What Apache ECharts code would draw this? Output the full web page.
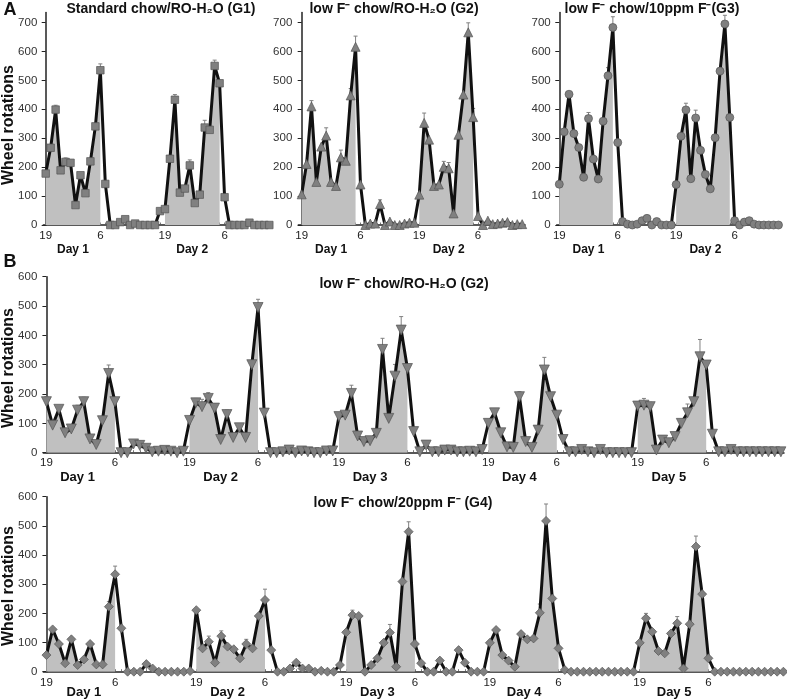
<!DOCTYPE html>
<html><head><meta charset="utf-8">
<script src="https://cdn.jsdelivr.net/npm/echarts@6/dist/echarts.min.js"></script>
<style>html,body{margin:0;padding:0;background:#fff}#c{width:787px;height:700px}</style>
</head><body><div id="c"></div>
<script>
// ---------- DATA ----------
// Panel A: hourly wheel rotations, 2 days (index 0 = 19h day 1)
const g1Values = [178,267,399,189,218,215,69,172,110,220,341,535,
  142,0,0,10,20,0,5,0,0,0,0,48,
  55,229,433,112,126,206,76,105,337,329,550,490,
  96,0,0,0,0,8,0,0,0,0];
const g2Values = [106,211,410,149,271,309,149,135,234,222,448,616,
  140,0,5,5,72,0,12,0,0,5,8,8,
  105,353,295,135,140,201,196,40,312,451,666,373,
  31,0,15,3,5,8,10,0,3,3];
const g3Values = [141,322,452,316,268,165,368,228,159,359,516,683,
  285,12,3,0,3,15,23,0,12,0,0,0,
  140,307,398,160,370,258,175,125,302,532,695,372,
  15,0,10,15,3,0,0,0,0,0];
// Panel B: 5 days
const bG2Values = [174,94,148,68,81,145,174,47,28,109,270,174,
  0,0,30,25,15,3,5,8,5,0,5,
  110,170,157,185,152,45,130,52,85,52,300,495,
  135,0,0,3,9,0,6,3,0,0,6,6,
  123,128,202,57,38,41,66,352,117,261,418,287,
  72,3,26,3,3,9,9,3,3,5,3,11,
  100,136,68,20,18,191,38,18,77,282,191,128,
  45,3,3,11,3,0,11,0,0,0,0,0,
  159,162,157,9,43,34,55,100,136,174,327,299,
  63,3,3,11,3,3,3,3,3,3,3,3];
const bG4Values = [57,145,95,29,111,23,42,95,25,25,223,334,
  149,0,0,0,26,11,0,0,0,0,0,2,
  211,80,103,31,122,86,77,46,95,80,191,246,
  74,0,0,11,31,11,11,0,3,0,0,23,
  135,194,191,0,23,46,99,134,17,309,480,95,
  29,0,0,38,0,0,74,31,0,0,0,
  99,143,57,38,17,129,111,114,202,517,251,80,
  6,0,0,0,0,0,0,0,0,0,0,0,
  99,183,137,71,63,131,166,11,163,429,266,46,
  0,0,0,0,0,0,0,0,0,0,0,0];

// upward error bars [index, sem]
const g1Err = [[2,15],[4,14],[11,22],[26,18],[29,19],[32,25],[34,20]];
const g2Err = [[2,20],[5,27],[8,25],[10,24],[11,37],[16,15],[25,34],[29,19],[30,20],[34,33],[35,30]];
const g3Err = [[6,21],[10,28],[11,37],[26,23],[28,27],[34,30]];
const bG2Err = [[0,17],[5,17],[6,15],[10,29],[24,15],[25,25],[26,20],[29,15],[34,28],[49,28],[54,38],[56,40],[57,46],[76,17],[80,43],[95,15],[96,23],[97,15],[103,30],[105,59]];
const bG4Err = [[10,17],[11,28],[26,19],[28,18],[32,16],[35,37],[49,17],[55,28],[58,34],[79,30],[80,58],[96,17],[101,23],[104,36]];

// dark (lights-off) periods, shaded
const darkA = [[0,11],[24,35]];
const darkBG2 = [[0,11],[23,34],[47,58],[71,82],[95,106]];
const darkBG4 = [[0,11],[24,35],[48,59],[71,82],[95,106]];

// hour tick labels
const g1Hours = [[0,'19'],[11,'6'],[24,'19'],[36,'6']];
const g2Hours = [[0,'19'],[12,'6'],[24,'19'],[36,'6']];
const g3Hours = [[0,'19'],[12,'6'],[24,'19'],[36,'6']];
const bG2Hours = [[0,'19'],[11,'6'],[23,'19'],[34,'6'],[47,'19'],[58,'6'],[71,'19'],[82,'6'],[95,'19'],[106,'6']];
const bG4Hours = [[0,'19'],[11,'6'],[24,'19'],[35,'6'],[48,'19'],[59,'6'],[71,'19'],[82,'6'],[95,'19'],[106,'6']];
const g1Days = [[5.5,'Day 1'],[29.5,'Day 2']];
const g23Days = [[6,'Day 1'],[30,'Day 2']];
const bG2Days = [[5,'Day 1'],[28,'Day 2'],[52,'Day 3'],[76,'Day 4'],[100,'Day 5']];
const bG4Days = [[6,'Day 1'],[29,'Day 2'],[53,'Day 3'],[76.5,'Day 4'],[100.5,'Day 5']];
const yTicksA = [0,100,200,300,400,500,600,700];
const yTicksB = [0,100,200,300,400,500,600];

// ---------- CHART ----------
const FONT = '"Liberation Sans", Arial, sans-serif';
const chart = echarts.init(document.getElementById('c'), null, {renderer:'canvas'});

const panels = [
  {vals:g1Values, err:g1Err, dark:darkA, hours:g1Hours, days:g1Days, yt:yTicksA, ymax:735,
   grid:{left:43.3, top:12.4, width:228.5, height:212.6}, xmin:-0.48, xmax:45.5,
   symbol:'rect', size:7.5, rot:0, hFont:11.5, dFont:12, hMargin:5, dMargin:19},
  {vals:g2Values, err:g2Err, dark:darkA, hours:g2Hours, days:g23Days, yt:yTicksA, ymax:735,
   grid:{left:298.3, top:12.4, width:226.8, height:212.6}, xmin:-0.69, xmax:45.6,
   symbol:'triangle', size:9, rot:0, hFont:11.5, dFont:12, hMargin:5, dMargin:19},
  {vals:g3Values, err:g3Err, dark:darkA, hours:g3Hours, days:g23Days, yt:yTicksA, ymax:735,
   grid:{left:556.7, top:12.4, width:224.7, height:212.6}, xmin:-0.53, xmax:45.6,
   symbol:'circle', size:8, rot:0, hFont:11.5, dFont:12, hMargin:5, dMargin:19},
  {vals:bG2Values, err:bG2Err, dark:darkBG2, hours:bG2Hours, days:bG2Days, yt:yTicksB, ymax:600,
   grid:{left:43.3, top:276.7, width:740.7, height:176}, xmin:-0.5, xmax:118.5,
   symbol:'triangle', size:10, rot:180, hFont:11.5, dFont:13, hMargin:4, dMargin:18},
  {vals:bG4Values, err:bG4Err, dark:darkBG4, hours:bG4Hours, days:bG4Days, yt:yTicksB, ymax:600,
   grid:{left:43.3, top:496.7, width:743.2, height:175}, xmin:-0.5, xmax:118.5,
   symbol:'diamond', size:9, rot:0, hFont:11.5, dFont:13, hMargin:5, dMargin:14}
];

const grid=[], xAxis=[], yAxis=[], series=[];
panels.forEach((p, gi) => {
  grid.push(p.grid);
  const hourMap = {}; p.hours.forEach(h => hourMap[h[0]] = h[1]);
  const dayMap = {}; p.days.forEach(d => dayMap[d[0]] = d[1]);
  const idx = p.vals.map((v,i)=>i);
  xAxis.push({type:'value', gridIndex:gi, min:p.xmin, max:p.xmax,
    axisLine:{show:true, onZero:false, lineStyle:{color:'#222', width:1.5}},
    axisTick:{show:true, inside:true, length:2.5, customValues:idx, lineStyle:{color:'#555', width:0.8}},
    axisLabel:{customValues:p.hours.map(h=>h[0]), formatter:v=>hourMap[v]||'', fontSize:p.hFont, color:'#222', fontFamily:FONT, margin:p.hMargin},
    splitLine:{show:false}});
  xAxis.push({type:'value', gridIndex:gi, min:p.xmin, max:p.xmax, position:'bottom', offset:0,
    axisLine:{show:false}, axisTick:{show:false},
    axisLabel:{customValues:p.days.map(d=>d[0]), formatter:v=>dayMap[v]||'', fontSize:p.dFont, fontWeight:'bold', color:'#111', fontFamily:FONT, margin:p.dMargin},
    splitLine:{show:false}});
  yAxis.push({type:'value', gridIndex:gi, min:0, max:p.ymax,
    axisLine:{show:true, lineStyle:{color:'#222', width:1.5}},
    axisTick:{show:true, length:4, customValues:p.yt, lineStyle:{color:'#222'}},
    axisLabel:{customValues:p.yt, fontSize:11.5, color:'#333', fontFamily:FONT, margin:6},
    splitLine:{show:false}});
  const xi = gi*2;
  p.dark.forEach(r => {
    const d = [];
    for (let i=r[0]; i<=r[1]; i++) d.push([i, p.vals[i]]);
    series.push({type:'line', xAxisIndex:xi, yAxisIndex:gi, data:d, symbol:'none', silent:true,
      lineStyle:{width:0, opacity:0}, areaStyle:{color:'#c0c0c0', opacity:1}, z:1, animation:false});
  });
  series.push({type:'custom', xAxisIndex:xi, yAxisIndex:gi, z:2, silent:true, animation:false,
    data:p.err.map(e=>[e[0], p.vals[e[0]], e[1]]),
    renderItem:(params, api) => {
      const x=api.value(0), v=api.value(1), e=api.value(2);
      const a=api.coord([x,v]), b=api.coord([x,v+e]);
      return {type:'group', children:[
        {type:'line', shape:{x1:a[0],y1:a[1],x2:b[0],y2:b[1]}, style:{stroke:'#808080', lineWidth:1}},
        {type:'line', shape:{x1:b[0]-2,y1:b[1],x2:b[0]+2,y2:b[1]}, style:{stroke:'#808080', lineWidth:1}}
      ]};
    }});
  series.push({type:'line', xAxisIndex:xi, yAxisIndex:gi, data:p.vals.map((v,i)=>[i,v]),
    symbol:p.symbol, symbolSize:p.size, symbolRotate:p.rot, showAllSymbol:true,
    itemStyle:{color:'#808080', borderColor:'#555', borderWidth:0.7},
    lineStyle:{color:'#111', width:3}, z:3, animation:false});
});

function txt(x,y,text,size,opts){
  return Object.assign({type:'text', x:x, y:y, silent:true,
    style:{text:text, font:'bold '+size+'px '+FONT, fill:'#111', textAlign:'center', textVerticalAlign:'middle'}}, opts||{});
}
const graphic = [
  txt(10,10,'A',18),
  txt(10,262,'B',18),
  txt(161,9,'Standard chow/RO-H\u2082O (G1)',14),
  txt(394,9,'low F\u207B chow/RO-H\u2082O (G2)',14),
  txt(652,9,'low F\u207B chow/10ppm F\u207B(G3)',14),
  txt(404,284,'low F\u207B chow/RO-H\u2082O (G2)',14),
  txt(403,503,'low F\u207B chow/20ppm F\u207B (G4)',14),
  txt(9,125,'Wheel rotations',16,{rotation:Math.PI/2}),
  txt(9,368,'Wheel rotations',16,{rotation:Math.PI/2}),
  txt(9,586,'Wheel rotations',16,{rotation:Math.PI/2})
];

chart.setOption({animation:false, backgroundColor:'#fff', grid, xAxis, yAxis, series, graphic});
</script></body></html>
